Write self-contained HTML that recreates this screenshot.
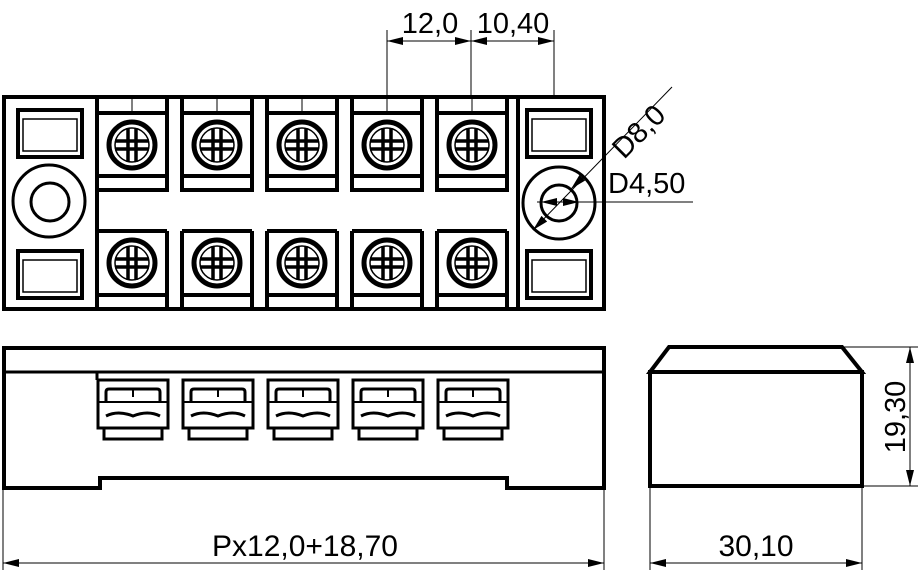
<!DOCTYPE html>
<html><head><meta charset="utf-8"><style>
html,body{margin:0;padding:0;background:#fff;}
svg{display:block;}
text{font-family:"Liberation Sans",Arial,sans-serif;fill:#000;}
</style></head><body>
<svg width="918" height="570" viewBox="0 0 918 570" xmlns="http://www.w3.org/2000/svg">
<defs>
<marker id="a" viewBox="0 0 16 8" refX="16" refY="4" markerWidth="16" markerHeight="8" orient="auto-start-reverse" markerUnits="userSpaceOnUse"><path d="M0,0 L16,4 L0,8 z" fill="#000"/></marker>
<g id="scr">
<circle r="23" fill="none" stroke="#000" stroke-width="5"/>
<circle r="17" fill="none" stroke="#000" stroke-width="1.5"/>
<path d="M-4,-17V17M4,-17V17M-17,-4H17M-17,4H17" stroke="#000" stroke-width="3.5"/>
<rect x="-2" y="-2" width="4" height="4" fill="#fff"/>
</g>
<g id="term">
<path d="M0,0V93H70V0" fill="none" stroke="#000" stroke-width="4"/>
<path d="M0,16H70M0,79H70" stroke="#000" stroke-width="4"/>
<line x1="35" y1="0" x2="35" y2="16" stroke="#000" stroke-width="1"/>
<use href="#scr" x="35" y="48"/>
</g>
<g id="lterm">
<path d="M0,16V94H70V16" fill="none" stroke="#000" stroke-width="4"/>
<path d="M0,16H70M0,80H70" stroke="#000" stroke-width="4"/>
<use href="#scr" x="35" y="48"/>
</g>
<g id="sq">
<rect x="0" y="0" width="64" height="47" fill="none" stroke="#000" stroke-width="4"/>
<rect x="5" y="9" width="54" height="32" fill="none" stroke="#000" stroke-width="1.5"/>
</g>
<g id="ft">
<rect x="0" y="0" width="70" height="48" fill="none" stroke="#000" stroke-width="3"/>
<path d="M8,22V12Q8,9 11,9H59Q62,9 62,12V22" fill="none" stroke="#000" stroke-width="3"/>
<line x1="0" y1="22" x2="70" y2="22" stroke="#000" stroke-width="2"/>
<path d="M8,36Q20,30 35,36Q50,30 62,36" fill="none" stroke="#000" stroke-width="3"/>
<rect x="6" y="48" width="58" height="11" fill="none" stroke="#000" stroke-width="3"/>
<line x1="35" y1="9" x2="35" y2="17" stroke="#000" stroke-width="2"/>
</g>
</defs>

<rect x="4" y="97" width="600" height="212" fill="none" stroke="#000" stroke-width="4"/>
<line x1="97" y1="97" x2="97" y2="309" stroke="#000" stroke-width="4"/>
<line x1="518" y1="97" x2="518" y2="309" stroke="#000" stroke-width="4"/>
<use href="#sq" x="18" y="110"/>
<use href="#sq" x="18" y="251"/>
<circle cx="49" cy="201" r="36" fill="none" stroke="#000" stroke-width="3"/>
<circle cx="50" cy="202" r="19" fill="none" stroke="#000" stroke-width="3"/>
<use href="#sq" x="527" y="110"/>
<use href="#sq" x="527" y="251"/>
<circle cx="559" cy="203" r="36" fill="none" stroke="#000" stroke-width="3"/>
<circle cx="559" cy="203" r="18" fill="none" stroke="#000" stroke-width="3"/>

<use href="#term" x="97" y="97"/>
<use href="#term" x="182" y="97"/>
<use href="#term" x="267" y="97"/>
<use href="#term" x="352" y="97"/>
<use href="#term" x="437" y="97"/>
<use href="#lterm" x="97" y="215"/>
<use href="#lterm" x="182" y="215"/>
<use href="#lterm" x="267" y="215"/>
<use href="#lterm" x="352" y="215"/>
<use href="#lterm" x="437" y="215"/>

<path d="M387,30V97M471,30V97M554,30V97" stroke="#000" stroke-width="1"/>
<line x1="387" y1="41" x2="471" y2="41" stroke="#000" stroke-width="1" marker-start="url(#a)" marker-end="url(#a)"/>
<line x1="471" y1="41" x2="554" y2="41" stroke="#000" stroke-width="1" marker-start="url(#a)" marker-end="url(#a)"/>
<text x="430" y="33" font-size="29" text-anchor="middle">12,0</text>
<text x="513" y="33" font-size="29" text-anchor="middle">10,40</text>

<line x1="533" y1="230" x2="672" y2="87" stroke="#000" stroke-width="1"/>
<line x1="544" y1="219" x2="533" y2="230" stroke="#000" stroke-width="1" marker-end="url(#a)"/>
<line x1="571" y1="189" x2="584" y2="176" stroke="#000" stroke-width="1" marker-start="url(#a)"/>
<text transform="translate(624,160) rotate(-45)" font-size="29">D8,0</text>
<line x1="537" y1="202" x2="693" y2="202" stroke="#000" stroke-width="1"/>
<line x1="545" y1="202" x2="541" y2="202" stroke="#000" stroke-width="1" marker-end="url(#a)"/>
<line x1="575" y1="202" x2="579" y2="202" stroke="#000" stroke-width="1" marker-end="url(#a)"/>
<text x="608" y="193" font-size="29">D4,50</text>

<path d="M4,348H604V488H507V478H100V488H4Z" fill="none" stroke="#000" stroke-width="4"/>
<line x1="4" y1="372" x2="604" y2="372" stroke="#000" stroke-width="3"/>
<line x1="97" y1="372" x2="97" y2="380" stroke="#000" stroke-width="3"/>
<use href="#ft" x="98" y="380"/>
<use href="#ft" x="183" y="380"/>
<use href="#ft" x="268" y="380"/>
<use href="#ft" x="353" y="380"/>
<use href="#ft" x="438" y="380"/>

<path d="M650,372L669,347H842L862,372Z" fill="none" stroke="#000" stroke-width="4"/>
<rect x="650" y="372" width="212" height="114" fill="none" stroke="#000" stroke-width="4"/>
<path d="M842,347H918M862,486H918" stroke="#000" stroke-width="1"/>
<line x1="910" y1="347" x2="910" y2="486" stroke="#000" stroke-width="1" marker-start="url(#a)" marker-end="url(#a)"/>
<text transform="translate(905,417) rotate(-90)" font-size="29" text-anchor="middle">19,30</text>

<path d="M3,488V570M604,488V570M650,486V570M862,486V570" stroke="#000" stroke-width="1"/>
<line x1="3" y1="563" x2="604" y2="563" stroke="#000" stroke-width="1" marker-start="url(#a)" marker-end="url(#a)"/>
<line x1="650" y1="563" x2="862" y2="563" stroke="#000" stroke-width="1" marker-start="url(#a)" marker-end="url(#a)"/>
<text x="305" y="556" font-size="30" text-anchor="middle">Px12,0+18,70</text>
<text x="756" y="556" font-size="30" text-anchor="middle">30,10</text>
</svg>
</body></html>
